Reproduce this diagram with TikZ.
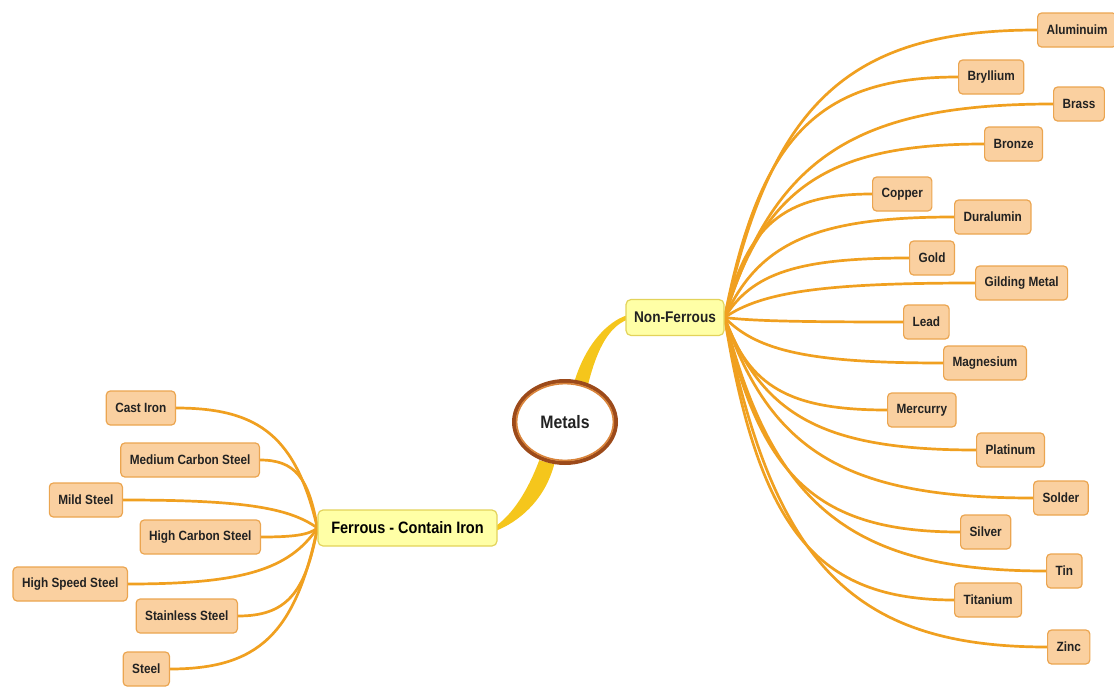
\documentclass[tikz,border=0pt]{standalone}
\usepackage{fontspec}
\setmainfont{Liberation Sans}[FakeStretch=0.88]
\usetikzlibrary{calc,shapes.geometric,backgrounds}

\definecolor{branch}{HTML}{F0A020}
\definecolor{leaffill}{HTML}{FAD0A0}
\definecolor{leafline}{HTML}{EBA550}
\definecolor{hubfill}{HTML}{FFFFA6}
\definecolor{hubline}{HTML}{E3D35A}
\definecolor{bandcol}{HTML}{F5C61C}
\definecolor{rim}{HTML}{9C4A1A}
\definecolor{rimlight}{HTML}{D9843A}
\definecolor{ink}{HTML}{222222}

\begin{document}
\begin{tikzpicture}[x=1pt,y=-1pt,
  leaf/.style={draw=leafline, fill=leaffill, line width=1.2pt, rounded corners=4pt,
    inner xsep=9pt, inner ysep=0pt, minimum height=34pt, text=ink,
    font=\bfseries\fontsize{13.4}{15}\selectfont},
  hub/.style={draw=hubline, fill=hubfill, line width=1.2pt, rounded corners=5pt,
    inner xsep=4pt, inner ysep=0pt, minimum height=36pt},
  link/.style={draw=branch, line width=2.7pt, line cap=round},
]
\useasboundingbox (0,0) rectangle (1114,688);

% central topic and the two main branches
\node[ellipse, draw=rim, line width=4pt, fill=white, minimum width=102pt,
      minimum height=82pt, text=ink,
      font=\bfseries\fontsize{18}{20}\selectfont] (m) at (565,422) {Metals};
\draw[rimlight, line width=1.6pt] (m.center) ellipse [x radius=48.4pt, y radius=38.4pt];
\node[hub, minimum width=98pt, text=ink,
      font=\bfseries\fontsize{15.5}{18}\selectfont] (nf) at (675,317.5) {Non-Ferrous};
\node[hub, minimum width=179pt, text=black,
      font=\bfseries\fontsize{16.5}{18}\selectfont] (fe) at (407.5,528) {Ferrous - Contain Iron};

% non-ferrous metals
\begin{scope}[every node/.style={leaf, anchor=west}]
\node (alu) at (1037,30)  {Aluminuim};
\node (bry) at (958,77)   {Bryllium};
\node (bra) at (1053,104) {Brass};
\node (bro) at (984,144)  {Bronze};
\node (cop) at (872,194)  {Copper};
\node (dur) at (954,217)  {Duralumin};
\node (gol) at (909,258)  {Gold};
\node (gil) at (975,283)  {Gilding Metal};
\node (lea) at (903,322)  {Lead};
\node (mag) at (943,363)  {Magnesium};
\node (mer) at (887,410)  {Mercurry};
\node (pla) at (976,450)  {Platinum};
\node (sol) at (1033,498) {Solder};
\node (sil) at (960,532)  {Silver};
\node (tin) at (1046,571) {Tin};
\node (tit) at (954,600)  {Titanium};
\node (zin) at (1047,647) {Zinc};
\end{scope}

% ferrous metals
\begin{scope}[every node/.style={leaf, anchor=east}]
\node (cas) at (176,408) {Cast Iron};
\node (med) at (260,460) {Medium Carbon Steel};
\node (mil) at (123,500) {Mild Steel};
\node (hcs) at (261,537) {High Carbon Steel};
\node (hss) at (128,584) {High Speed Steel};
\node (sta) at (238,616) {Stainless Steel};
\node (ste) at (170,669) {Steel};
\end{scope}

\begin{scope}[on background layer]
  % tapered bands from the central topic
  \fill[bandcol] ($(m.70)+(-6,2)$) .. controls +(12,-40) and +(-18,6) ..
        ($(nf.west)+(1,-2)$) -- ($(nf.west)+(1,2.5)$) .. controls +(-16,7) and +(10,-40) ..
        ($(m.70)+(8,4)$) -- cycle;
  \fill[bandcol] ($(m.-115)+(-7,-2)$) .. controls +(-12,32) and +(16,-12) ..
        ($(fe.east)+(-1,-2.5)$) -- ($(fe.east)+(-1,2.5)$) .. controls +(20,-8) and +(-10,38) ..
        ($(m.-115)+(8,2)$) -- cycle;

  % fan of links to the non-ferrous metals
  \foreach \c in {alu,bry,bra,bro,cop,dur,gol,gil,lea,mag,mer,pla,sol,sil,tin,tit,zin}
    \draw[link] let \p1=(nf.east), \p2=(\c.west) in
      (\p1) .. controls ({\x1+0.15*(\x2-\x1)},{\y1+0.75*(\y2-\y1)})
                and ({\x2-0.6*(\x2-\x1)},{\y2}) .. (\p2);

  % fan of links to the ferrous metals
  \foreach \c in {cas,med,mil,hcs,hss,sta,ste}
    \draw[link] let \p1=(fe.west), \p2=(\c.east) in
      (\p2) .. controls ({\x2+0.6*(\x1-\x2)},{\y2})
                and ({\x1-0.15*(\x1-\x2)},{\y1+0.75*(\y2-\y1)}) .. (\p1);
\end{scope}
\end{tikzpicture}
\end{document}
